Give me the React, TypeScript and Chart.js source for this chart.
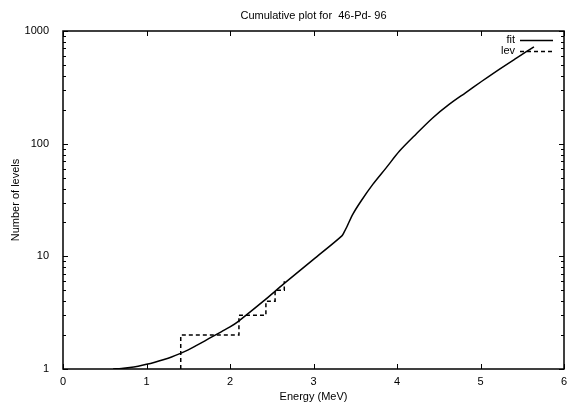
import { useEffect, useRef } from "react";
import { Chart, registerables } from "chart.js";

Chart.register(...registerables);

const titleText = "Cumulative plot for  46-Pd- 96";
const xTitle = "Energy (MeV)";
const yTitle = "Number of levels";
const xTicks = [0, 1, 2, 3, 4, 5, 6];
const yTicks = [1, 10, 100, 1000];

const fitEnergy = [0.6, 0.7, 0.8, 0.9, 1.0, 1.1, 1.2, 1.3, 1.4, 1.5, 1.6, 1.7, 1.8, 1.9, 2.0, 2.1, 2.4, 2.65, 3.0, 3.34, 3.37, 3.4, 3.47, 3.57, 3.71, 3.87, 4.03, 4.23, 4.43, 4.62, 4.82, 5.02, 5.22, 5.43, 5.64];
const fitLevels = [1.0, 1.01, 1.03, 1.06, 1.1, 1.15, 1.21, 1.28, 1.37, 1.48, 1.62, 1.78, 1.96, 2.15, 2.36, 2.65, 4.0, 5.75, 9.4, 15.2, 16.6, 18.3, 23.6, 31, 43.5, 61, 86, 122, 170, 222, 283, 360, 455, 575, 724];

const levEnergy = [1.41, 2.107, 2.43, 2.54, 2.65, 2.65];
const levCount = [1, 2, 3, 4, 5, 6];

const FONT = "'Liberation Sans', Arial, Helvetica, sans-serif";

const framePlugin = {
  id: "gnuplotFrame",
  afterDraw(chart: any) {
    const { ctx, chartArea: a, scales } = chart;
    const x = scales.x;
    const y = scales.y;
    ctx.save();
    ctx.strokeStyle = "#000";
    ctx.lineWidth = 1.5;
    ctx.strokeRect(a.left, a.top, a.right - a.left, a.bottom - a.top);
    ctx.lineWidth = 1;
    ctx.beginPath();
    for (const v of xTicks) {
      const px = Math.round(x.getPixelForValue(v)) + 0.5;
      ctx.moveTo(px, a.bottom);
      ctx.lineTo(px, a.bottom - 5);
      ctx.moveTo(px, a.top);
      ctx.lineTo(px, a.top + 5);
    }
    for (let d = 0; d < yTicks.length; d++) {
      const base = yTicks[d];
      for (let m = 1; m <= 9; m++) {
        const v = base * m;
        if (v > 1000) break;
        const len = m === 1 ? 5 : 3;
        const py = Math.round(y.getPixelForValue(v)) + 0.5;
        ctx.moveTo(a.left, py);
        ctx.lineTo(a.left + len, py);
        ctx.moveTo(a.right, py);
        ctx.lineTo(a.right - len, py);
      }
    }
    ctx.stroke();

    // title
    ctx.fillStyle = "#000";
    ctx.font = `11px ${FONT}`;
    ctx.textAlign = "center";
    ctx.textBaseline = "middle";
    ctx.fillText(titleText, (a.left + a.right) / 2, 16);

    // legend
    const ds = chart.data.datasets;
    const rows = [40, 51];
    ds.forEach((d: any, i: number) => {
      const ry = rows[i];
      ctx.textAlign = "right";
      ctx.fillText(d.label, 515, ry);
      ctx.beginPath();
      ctx.lineWidth = 1.5;
      ctx.setLineDash(d.borderDash || []);
      ctx.moveTo(520, ry + 0.5);
      ctx.lineTo(553, ry + 0.5);
      ctx.stroke();
    });
    ctx.setLineDash([]);
    ctx.restore();
  },
};

export default function App() {
  const ref = useRef<HTMLCanvasElement>(null);
  useEffect(() => {
    if (!ref.current) return;
    const chart = new Chart(ref.current, {
      type: "line",
      data: {
        datasets: [
          {
            label: "fit",
            data: fitEnergy.map((e, i) => ({ x: e, y: fitLevels[i] })),
            borderColor: "#000",
            borderWidth: 1.5,
            pointRadius: 0,
            tension: 0.3,
            fill: false,
          },
          {
            label: "lev",
            data: levEnergy.map((e, i) => ({ x: e, y: levCount[i] })),
            borderColor: "#000",
            borderWidth: 1.5,
            borderDash: [4, 3],
            pointRadius: 0,
            stepped: "after",
            fill: false,
          },
        ],
      },
      options: {
        animation: false,
        responsive: false,
        maintainAspectRatio: false,
        layout: { padding: { top: 31, right: 6, left: 0, bottom: 0 } },
        plugins: {
          legend: { display: false },
          title: { display: false },
          tooltip: { enabled: false },
        },
        scales: {
          x: {
            type: "linear",
            min: 0,
            max: 6,
            afterBuildTicks: (s: any) => {
              s.ticks = xTicks.map((v) => ({ value: v }));
            },
            ticks: { color: "#000", font: { family: FONT, size: 11 }, padding: -2, maxRotation: 0 },
            grid: { display: false },
            border: { display: false },
            title: {
              display: true,
              text: xTitle,
              color: "#000",
              font: { family: FONT, size: 11 },
              padding: { top: 0, bottom: 1 },
            },
            afterFit: (s: any) => {
              s.height = 36;
            },
          },
          y: {
            type: "logarithmic",
            min: 1,
            max: 1000,
            afterBuildTicks: (s: any) => {
              s.ticks = yTicks.map((v) => ({ value: v }));
            },
            ticks: {
              color: "#000",
              font: { family: FONT, size: 11 },
              padding: 6,
              callback: (v: any) => String(v),
            },
            grid: { display: false },
            border: { display: false },
            title: {
              display: true,
              text: yTitle,
              color: "#000",
              font: { family: FONT, size: 11 },
              padding: { top: 9, bottom: 0 },
            },
            afterFit: (s: any) => {
              s.width = 63;
            },
          },
        },
      },
      plugins: [framePlugin],
    } as any);
    return () => chart.destroy();
  }, []);
  return (
    <div style={{ position: "absolute", left: 0, top: 0, width: 570, height: 405, background: "#fff" }}>
      <canvas ref={ref} width={570} height={405} style={{ width: 570, height: 405, display: "block" }} />
    </div>
  );
}
